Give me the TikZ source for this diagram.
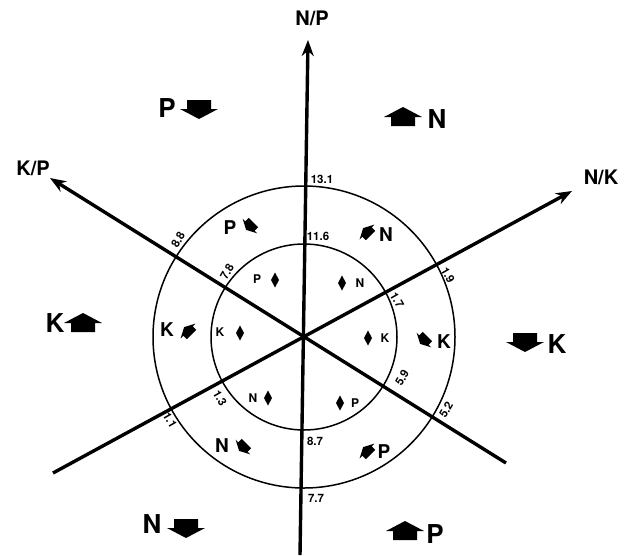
\documentclass[tikz,border=0pt]{standalone}
\usepackage{fontspec}
\setmainfont{TeX Gyre Heros}
\usetikzlibrary{arrows.meta}
\begin{document}
\begin{tikzpicture}[x=1pt,y=-1pt,
  axisline/.style={line width=3.4pt,-{Stealth[length=16pt,width=12pt]}},
  ringline/.style={line width=1.5pt},
  big/.style={font=\fontsize{26}{26}\selectfont\bfseries,inner sep=0pt},
  mid/.style={font=\fontsize{19}{19}\selectfont\bfseries,inner sep=0pt},
  axlab/.style={font=\fontsize{20}{20}\selectfont\bfseries,inner sep=0pt},
  small/.style={font=\fontsize{12}{12}\selectfont\bfseries,inner sep=0pt},
  num/.style={font=\fontsize{11.5}{11.5}\selectfont\bfseries,inner sep=0pt},
  barrow/.pic={\fill (0,-10) -- (-19,0) -- (-12,0) -- (-12,9) -- (12,9) -- (12,0) -- (19,0) -- cycle;},
  dia/.pic={\fill (0,-7.5) -- (4,0) -- (0,7.5) -- (-4,0) -- cycle;}
]
\useasboundingbox (0,0) rectangle (626,555);
\coordinate (O) at (304,337);
\coordinate (npT) at (308,40);
\coordinate (npB) at (300,555);
\coordinate (kpT) at (50,178);
\coordinate (kpB) at (506,463);
\coordinate (nkT) at (572,191);
\coordinate (nkB) at (53,473);
\draw[ringline] (O) circle[radius=151];
\draw[ringline] (O) circle[radius=93];
\draw[axisline] (npB) -- (npT);
\draw[axisline] (kpB) -- (kpT);
\draw[axisline] (nkB) -- (nkT);
% axis labels
\node[axlab] (lNP) at (312,18) {N/P};
\node[axlab] (lKP) at (33,168) {K/P};
\node[axlab] (lNK) at (601,177) {N/K};
% numbers
\node[num] (n131) at (322,179) {13.1};
\node[num] (n116) at (318,236) {11.6};
\node[num] (n87) at (315,441) {8.7};
\node[num] (n77) at (316,498) {7.7};
\node[num,rotate=60] (n88) at (178,240) {8.8};
\node[num,rotate=60] (n78) at (227,272) {7.8};
\node[num,rotate=-60] (n19) at (448,275) {1.9};
\node[num,rotate=-60] (n17) at (397,300) {1.7};
\node[num,rotate=60] (n59) at (402,378) {5.9};
\node[num,rotate=60] (n52) at (446,410) {5.2};
\node[num,rotate=-60] (n13) at (220,398) {1.3};
\node[num,rotate=-60] (n11) at (170,420) {1.1};
% outer labels
\node[big] (oP1) at (167,108) {P};
\pic[rotate=180] at (199,109) {barrow};
\pic at (403,117) {barrow};
\node[big] (oN1) at (437,119) {N};
\node[big] (oK1) at (55,323) {K};
\pic at (83,323) {barrow};
\pic[rotate=180] at (525,342) {barrow};
\node[big] (oK2) at (557,344) {K};
\node[big] (oN2) at (152,524) {N};
\pic[rotate=180] at (186,528) {barrow};
\pic at (405,531) {barrow};
\node[big] (oP2) at (435,534) {P};
% ring labels
\node[mid] (rP1) at (230,228) {P};
\pic[rotate=135,scale=0.55] at (250,226) {barrow};
\pic[rotate=45,scale=0.55] at (367,232) {barrow};
\node[mid] (rN1) at (386,235) {N};
\node[mid] (rK1) at (167,330) {K};
\pic[rotate=45,scale=0.55] at (188,331) {barrow};
\pic[rotate=135,scale=0.55] at (424,340) {barrow};
\node[mid] (rK2) at (444,342) {K};
\node[mid] (rN2) at (222,446) {N};
\pic[rotate=135,scale=0.55] at (243,447) {barrow};
\pic[rotate=45,scale=0.55] at (367,451) {barrow};
\node[mid] (rP2) at (384,452) {P};
% inner labels
\node[small] (iP1) at (257,279) {P};
\pic at (275,280) {dia};
\pic at (342,283) {dia};
\node[small] (iN1) at (360,283) {N};
\node[small] (iK1) at (220,332) {K};
\pic at (240,333) {dia};
\pic at (368,338) {dia};
\node[small] (iK2) at (385,338) {K};
\node[small] (iN2) at (253,398) {N};
\pic at (268,398) {dia};
\pic at (340,403) {dia};
\node[small] (iP2) at (355,403) {P};
\end{tikzpicture}
\end{document}
